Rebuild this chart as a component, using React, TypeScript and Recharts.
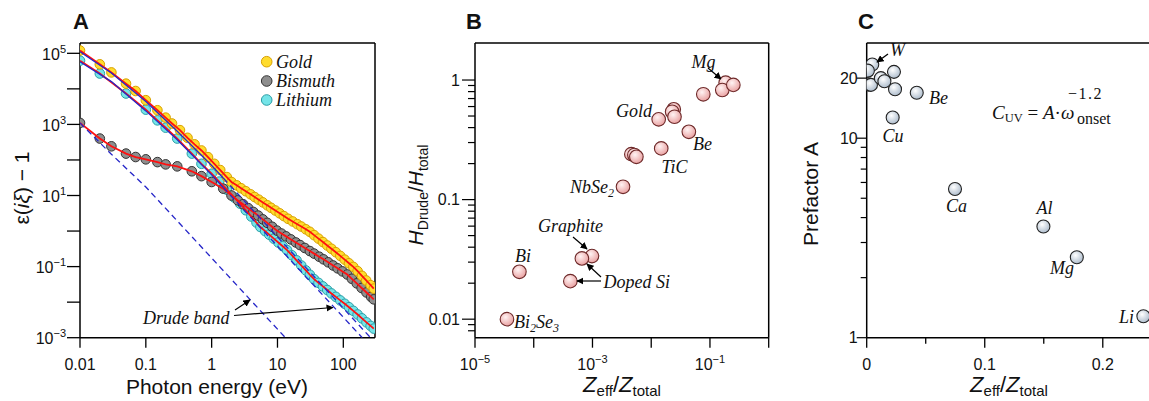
import React from 'react';
import { ScatterChart, Scatter, XAxis, YAxis, ReferenceLine } from 'recharts';

// ---------------- Panel A data ----------------
const goldEnergy = [0.01,0.02,0.03,0.05,0.07,0.1,0.15,0.2,0.25,0.33,0.43,0.55,0.7,0.88,1.1,1.35,1.7,2.0,2.4,2.8,3.3,3.9,4.5,5.2,6,7,8,9.3,10.8,12.5,14.5,17,20,23,27,31,36,42,49,57,66,77,90,105,122,142,165,192,223,260,290];
const goldEps = [1.2e5,4.9e4,2.9e4,1.4e4,8.7e3,4.8e3,2.5e3,1.55e3,1.06e3,690,420,275,185,120,78,52,33,24,19.3,16.0,13.2,10.8,9.06,7.63,6.4,5.3,4.5,3.78,3.15,2.64,2.21,1.86,1.56,1.34,1.12,0.953,0.767,0.613,0.49,0.393,0.318,0.254,0.2,0.157,0.124,0.098,0.0744,0.0549,0.0407,0.03,0.024];

const bismuthEnergy = [0.01,0.02,0.03,0.05,0.07,0.1,0.15,0.2,0.3,0.5,0.7,1.0,1.5,2.0,2.5,3,3.6,4.3,5.1,6,7,8.3,9.8,11.5,13.5,16,19,22,26,31,36,43,50,59,70,82,97,115,135,160,190,225,265,290];
const bismuthEps = [1100,400,242,151,121,104,87,75,66,48,35,24,15.6,10,7.3,5.7,4.4,3.45,2.72,2.13,1.7,1.32,1.03,0.851,0.708,0.582,0.478,0.404,0.334,0.274,0.232,0.19,0.16,0.132,0.1075,0.0893,0.0733,0.06,0.0454,0.0338,0.025,0.0187,0.014,0.012];

const lithiumEnergy = [0.01,0.02,0.05,0.1,0.15,0.2,0.3,0.5,0.7,1.0,1.3,1.7,2.2,2.7,3.3,4,4.8,5.5,6.5,7.5,8.8,10.3,12,14,16.5,19.5,23,27,31,36,42,49,57,66,77,90,105,122,142,165,192,225,260,290];
const lithiumEps = [6.2e4,2.7e4,7.4e3,2.6e3,1.3e3,810,400,151,78,41,24.6,14.6,8.8,5.9,3.85,2.56,1.73,1.3,0.995,0.79,0.61,0.476,0.373,0.29,0.209,0.15,0.1075,0.078,0.059,0.0442,0.0349,0.0277,0.022,0.0176,0.0141,0.0112,0.009,0.0072,0.0057,0.0045,0.0035,0.0027,0.00215,0.0018];

// Drude-band curves
const goldDrudeSolidE = [0.01, 0.03, 0.1, 0.3, 1, 1.5];
const goldDrudeSolidEps = [1.1e5, 2.8e4, 4.4e3, 640, 70, 31];
const goldDrudeDashE = [1.5, 259];
const goldDrudeDashEps = [31, 0.001];
const lithiumDrudeSolidE = [0.01, 0.03, 0.1, 0.3, 1, 1.5];
const lithiumDrudeSolidEps = [5.8e4, 1.6e4, 2.4e3, 370, 38, 16.8];
const lithiumDrudeDashE = [1.5, 194];
const lithiumDrudeDashEps = [16.8, 0.001];
const bismuthDrudeE = [0.01, 0.03, 0.1, 13.2];
const bismuthDrudeEps = [1100, 145, 17.4, 0.001];

const aXTicks = [0.01, 0.1, 1, 10, 100];
const aYTicks = [1e-3, 1e-2, 1e-1, 1, 10, 100, 1e3, 1e4, 1e5];
const A_X_DOMAIN: [number, number] = [0.01, 303];
const A_Y_DOMAIN: [number, number] = [1e-3, 1.95e5];

// ---------------- Panel B data ----------------
const bZratio = [0.185, 0.162, 0.25, 0.077, 0.0242, 0.0227, 0.0249, 0.0134, 0.0437, 0.0148, 0.00459, 0.00517, 0.00559, 0.00331, 0.00098, 0.00066, 0.00042, 5.7e-5, 3.5e-5];
const bHratio = [0.95, 0.825, 0.91, 0.76, 0.569, 0.543, 0.493, 0.469, 0.369, 0.268, 0.24, 0.236, 0.228, 0.128, 0.0337, 0.0322, 0.0208, 0.0249, 0.01];
const bXTicks = [1e-5, 1e-4, 1e-3, 1e-2, 1e-1, 1];
const bYTicks = [0.008, 0.009, 0.01, 0.02, 0.03, 0.04, 0.05, 0.06, 0.07, 0.08, 0.09, 0.1, 0.2, 0.3, 0.4, 0.5, 0.6, 0.7, 0.8, 0.9, 1];
const B_X_DOMAIN: [number, number] = [1e-5, 1];
const B_Y_DOMAIN: [number, number] = [0.007, 2.04];

// ---------------- Panel C data ----------------
const cZratio = [0.0047, 0.001, 0.0014, 0.0036, 0.012, 0.015, 0.0231, 0.024, 0.0424, 0.022, 0.0748, 0.1497, 0.178, 0.2344];
const cPrefactor = [23.4, 21.8, 18.6, 18.5, 20.0, 19.3, 21.5, 17.6, 16.9, 12.7, 5.56, 3.61, 2.53, 1.28];
const cXTicks = [0, 0.05, 0.1, 0.15, 0.2];
const cYTicks = [1, 2, 3, 4, 5, 6, 7, 8, 9, 10, 20];
const C_X_DOMAIN: [number, number] = [0, 0.24];
const C_Y_DOMAIN: [number, number] = [1, 30];

// ---------------- helpers ----------------
const SANS = '"Liberation Sans", Arial, sans-serif';
const SERIF = '"Liberation Serif", "Times New Roman", serif';
const INK = '#111';

const pts = (xs: number[], ys: number[]) => xs.map((x, i) => ({ x, y: ys[i] }));
const sup = (e: number) => (e < 0 ? `\u2212${-e}` : `${e}`);
const isDecade = (v: number) => Math.abs(Math.log10(v) - Math.round(Math.log10(v))) < 1e-6;

const dot = (fill: string, stroke: string, r: number, sw = 1) => (p: any) => (
  <circle cx={p.cx} cy={p.cy} r={r} fill={fill} stroke={stroke} strokeWidth={sw} />
);
const noDot = () => <g />;
const axisLineStyle = { stroke: '#000', strokeWidth: 1.5 };

const AXTick = (p: any) => (
  <g>
    <line x1={p.x} x2={p.x} y1={p.y} y2={p.y + 10} stroke="#000" strokeWidth={1.3} />
    <text x={p.x} y={p.y + 32} textAnchor="middle" fontFamily={SANS} fontSize={16} fill={INK}>
      {String(p.payload.value)}
    </text>
  </g>
);
const AYTick = (p: any) => {
  const e = Math.round(Math.log10(p.payload.value));
  const major = Math.abs(e) % 2 === 1;
  return (
    <g>
      <line x1={p.x} x2={p.x - 13} y1={p.y} y2={p.y} stroke="#000" strokeWidth={1.3} />
      {major && (
        <text x={p.x - 14} y={p.y + 6.5} textAnchor="end" fontFamily={SANS} fontSize={16} fill={INK}>
          10<tspan dy={-7} fontSize={11}>{sup(e)}</tspan>
        </text>
      )}
    </g>
  );
};
const BXTick = (p: any) => {
  const e = Math.round(Math.log10(p.payload.value));
  const major = Math.abs(e) % 2 === 1;
  return (
    <g>
      <line x1={p.x} x2={p.x} y1={p.y} y2={p.y + 10} stroke="#000" strokeWidth={1.3} />
      {major && (
        <text x={p.x} y={p.y + 32} textAnchor="middle" fontFamily={SANS} fontSize={16} fill={INK}>
          10<tspan dy={-7} fontSize={11}>{sup(e)}</tspan>
        </text>
      )}
    </g>
  );
};
const BYTick = (p: any) => {
  const v = p.payload.value;
  const major = isDecade(v);
  return (
    <g>
      <line x1={p.x} x2={p.x - (major ? 13 : 7)} y1={p.y} y2={p.y} stroke="#000" strokeWidth={1.2} />
      {major && (
        <text x={p.x - 15} y={p.y + 5.5} textAnchor="end" fontFamily={SANS} fontSize={16} fill={INK}>
          {String(v)}
        </text>
      )}
    </g>
  );
};
const CXTick = (p: any) => {
  const v = p.payload.value;
  const major = Math.abs(v * 10 - Math.round(v * 10)) < 1e-9;
  return (
    <g>
      <line x1={p.x} x2={p.x} y1={p.y} y2={p.y + (major ? 10 : 6)} stroke="#000" strokeWidth={1.3} />
      {major && (
        <text x={p.x} y={p.y + 32} textAnchor="middle" fontFamily={SANS} fontSize={16} fill={INK}>
          {String(v)}
        </text>
      )}
    </g>
  );
};
const CYTick = (p: any) => {
  const v = p.payload.value;
  const major = v === 1 || v === 10 || v === 20;
  return (
    <g>
      <line x1={p.x} x2={p.x - (major ? 10 : 6)} y1={p.y} y2={p.y} stroke="#000" strokeWidth={1.2} />
      {major && (
        <text x={p.x - 9} y={p.y + 5.5} textAnchor="end" fontFamily={SANS} fontSize={16} fill={INK}>
          {String(v)}
        </text>
      )}
    </g>
  );
};

const GOLD_FILL = '#ffdc2e';
const GOLD_EDGE = '#d9a000';
const BI_FILL = '#8e8e8e';
const BI_EDGE = '#333';
const LI_FILL = '#74e4e8';
const LI_EDGE = '#2c9ea6';
const FIT = '#ff1010';
const DRUDE = '#2626c8';

const PanelA = () => (
  <ScatterChart width={390} height={401} margin={{ top: 43, right: 15, bottom: 0, left: 0 }}>
    <XAxis type="number" dataKey="x" scale="log" domain={A_X_DOMAIN} allowDataOverflow ticks={aXTicks} interval={0}
      tick={<AXTick />} tickLine={false} tickSize={0} tickMargin={0} height={63.3} axisLine={axisLineStyle} />
    <YAxis type="number" dataKey="y" scale="log" domain={A_Y_DOMAIN} allowDataOverflow ticks={aYTicks} interval={0}
      tick={<AYTick />} tickLine={false} tickSize={0} tickMargin={0} width={80} axisLine={axisLineStyle} />
    <ReferenceLine y={A_Y_DOMAIN[1]} stroke="#000" strokeWidth={1.5} ifOverflow="visible" />
    <ReferenceLine x={A_X_DOMAIN[1]} stroke="#000" strokeWidth={1.5} ifOverflow="visible" />
    <Scatter data={pts(lithiumEnergy, lithiumEps)} shape={dot(LI_FILL, LI_EDGE, 4.8)} isAnimationActive={false} />
    <Scatter data={pts(bismuthEnergy, bismuthEps)} shape={dot(BI_FILL, BI_EDGE, 4.8)} isAnimationActive={false} />
    <Scatter data={pts(goldEnergy, goldEps)} shape={dot(GOLD_FILL, GOLD_EDGE, 4.8)} isAnimationActive={false} />
    <Scatter data={pts(goldEnergy, goldEps)} shape={noDot} line={{ stroke: FIT, strokeWidth: 1.8 }} isAnimationActive={false} />
    <Scatter data={pts(bismuthEnergy, bismuthEps)} shape={noDot} line={{ stroke: FIT, strokeWidth: 1.8 }} isAnimationActive={false} />
    <Scatter data={pts(lithiumEnergy, lithiumEps)} shape={noDot} line={{ stroke: FIT, strokeWidth: 1.8 }} isAnimationActive={false} />
    <Scatter data={pts(goldDrudeSolidE, goldDrudeSolidEps)} shape={noDot} line={{ stroke: DRUDE, strokeWidth: 1.3 }} isAnimationActive={false} />
    <Scatter data={pts(lithiumDrudeSolidE, lithiumDrudeSolidEps)} shape={noDot} line={{ stroke: DRUDE, strokeWidth: 1.3 }} isAnimationActive={false} />
    <Scatter data={pts(goldDrudeDashE, goldDrudeDashEps)} shape={noDot} line={{ stroke: DRUDE, strokeWidth: 1.3, strokeDasharray: '6 4' }} isAnimationActive={false} />
    <Scatter data={pts(lithiumDrudeDashE, lithiumDrudeDashEps)} shape={noDot} line={{ stroke: DRUDE, strokeWidth: 1.3, strokeDasharray: '6 4' }} isAnimationActive={false} />
    <Scatter data={pts(bismuthDrudeE, bismuthDrudeEps)} shape={noDot} line={{ stroke: DRUDE, strokeWidth: 1.3, strokeDasharray: '6 4' }} isAnimationActive={false} />
  </ScatterChart>
);

const PanelB = () => (
  <ScatterChart width={380} height={401} margin={{ top: 43, right: 1.3, bottom: 0, left: 0 }}>
    <XAxis type="number" dataKey="x" scale="log" domain={B_X_DOMAIN} allowDataOverflow ticks={bXTicks} interval={0}
      tick={<BXTick />} tickLine={false} tickSize={0} tickMargin={0} height={63.3} axisLine={axisLineStyle} />
    <YAxis type="number" dataKey="y" scale="log" domain={B_Y_DOMAIN} allowDataOverflow ticks={bYTicks} interval={0}
      tick={<BYTick />} tickLine={false} tickSize={0} tickMargin={0} width={85} axisLine={axisLineStyle} />
    <ReferenceLine y={B_Y_DOMAIN[1]} stroke="#000" strokeWidth={1.5} ifOverflow="visible" />
    <ReferenceLine x={B_X_DOMAIN[1]} stroke="#000" strokeWidth={1.5} ifOverflow="visible" />
    <Scatter data={pts(bZratio, bHratio)} shape={dot('url(#pinkBall)', '#6e2a2a', 6.8, 1.1)} isAnimationActive={false} />
  </ScatterChart>
);

const PanelC = () => (
  <ScatterChart width={380} height={401} margin={{ top: 43, right: 0, bottom: 0, left: 0 }}>
    <XAxis type="number" dataKey="x" domain={C_X_DOMAIN} allowDataOverflow ticks={cXTicks} interval={0}
      tick={<CXTick />} tickLine={false} tickSize={0} tickMargin={0} height={63.3} axisLine={axisLineStyle} />
    <YAxis type="number" dataKey="y" scale="log" domain={C_Y_DOMAIN} allowDataOverflow ticks={cYTicks} interval={0}
      tick={<CYTick />} tickLine={false} tickSize={0} tickMargin={0} width={96.7} axisLine={axisLineStyle} />
    <ReferenceLine y={C_Y_DOMAIN[1]} stroke="#000" strokeWidth={1.5} ifOverflow="visible" />
    <Scatter data={pts(cZratio, cPrefactor)} shape={dot('url(#blueBall)', '#222', 6.5, 1.1)} isAnimationActive={false} />
  </ScatterChart>
);

const it = { fontFamily: SERIF, fontStyle: 'italic' as const, fontSize: 18, fill: INK };

const Overlay = () => (
  <svg width={1149} height={401} style={{ position: 'absolute', left: 0, top: 0, pointerEvents: 'none' }}>
    <defs>
      <marker id="ah" viewBox="0 0 10 10" refX="9" refY="5" markerWidth="6" markerHeight="6" orient="auto">
        <path d="M0,0 L10,5 L0,10 z" fill="#000" />
      </marker>
    </defs>
    {/* panel letters */}
    <text x={73} y={29} fontFamily={SANS} fontWeight="bold" fontSize={22} fill={INK}>A</text>
    <text x={466} y={29} fontFamily={SANS} fontWeight="bold" fontSize={22} fill={INK}>B</text>
    <text x={858} y={29} fontFamily={SANS} fontWeight="bold" fontSize={22} fill={INK}>C</text>

    {/* Panel A titles */}
    <text transform="translate(29,188) rotate(-90)" textAnchor="middle" fontFamily={SANS} fontSize={21} fill={INK}>
      ε(<tspan fontStyle="italic">iξ</tspan>) − 1
    </text>
    <text x={217} y={394} textAnchor="middle" fontFamily={SANS} fontSize={21} fill={INK}>Photon energy (eV)</text>
    {/* legend */}
    <circle cx={266.7} cy={61.7} r={5.3} fill={GOLD_FILL} stroke={GOLD_EDGE} />
    <text x={276} y={67.5} {...it}>Gold</text>
    <circle cx={266.7} cy={81} r={5.3} fill={BI_FILL} stroke={BI_EDGE} />
    <text x={276} y={87} {...it}>Bismuth</text>
    <circle cx={266.7} cy={100} r={5.3} fill={LI_FILL} stroke={LI_EDGE} />
    <text x={276} y={106} {...it}>Lithium</text>
    {/* Drude band annotation */}
    <text x={143} y={323.5} {...it}>Drude band</text>
    <line x1={235} y1={310} x2={250} y2={300} stroke="#000" strokeWidth={1.2} markerEnd="url(#ah)" />
    <line x1={234} y1={315.5} x2={333} y2={307.5} stroke="#000" strokeWidth={1.2} markerEnd="url(#ah)" />

    {/* Panel B titles */}
    <text transform="translate(423,195) rotate(-90)" textAnchor="middle" fontFamily={SANS} fontSize={21} fill={INK}>
      <tspan fontStyle="italic">H</tspan><tspan fontSize={14} dy={5}>Drude</tspan><tspan dy={-5}>/</tspan><tspan fontStyle="italic">H</tspan><tspan fontSize={14} dy={5}>total</tspan>
    </text>
    <text x={622} y={392} textAnchor="middle" fontFamily={SANS} fontSize={22} fill={INK}>
      <tspan fontStyle="italic">Z</tspan><tspan fontSize={15} dy={4}>eff</tspan><tspan dy={-4}>/</tspan><tspan fontStyle="italic">Z</tspan><tspan fontSize={15} dy={4}>total</tspan>
    </text>
    {/* Panel B annotations */}
    <text x={691.5} y={68} {...it}>Mg</text>
    <line x1={708} y1={68} x2={721} y2={79} stroke="#000" strokeWidth={1.2} markerEnd="url(#ah)" />
    <text x={616} y={117} {...it}>Gold</text>
    <text x={693} y={150} {...it}>Be</text>
    <text x={661.5} y={173} {...it}>TiC</text>
    <text x={570} y={193} {...it}>NbSe<tspan fontSize={12} dy={4}>2</tspan></text>
    <text x={538} y={231.5} {...it}>Graphite</text>
    <line x1={573} y1={237} x2={587} y2={249} stroke="#000" strokeWidth={1.2} markerEnd="url(#ah)" />
    <text x={603.5} y={288} {...it}>Doped Si</text>
    <line x1={601} y1={281} x2={577} y2={281} stroke="#000" strokeWidth={1.2} markerEnd="url(#ah)" />
    <line x1={601} y1={277} x2={587} y2={264} stroke="#000" strokeWidth={1.2} markerEnd="url(#ah)" />
    <text x={515} y={261.5} {...it}>Bi</text>
    <text x={514} y={328} {...it}>Bi<tspan fontSize={12} dy={4}>2</tspan><tspan dy={-4}>Se</tspan><tspan fontSize={12} dy={4}>3</tspan></text>

    {/* Panel C titles */}
    <text transform="translate(818,194) rotate(-90)" textAnchor="middle" fontFamily={SANS} fontSize={21} fill={INK}>Prefactor A</text>
    <text x={1009} y={392} textAnchor="middle" fontFamily={SANS} fontSize={22} fill={INK}>
      <tspan fontStyle="italic">Z</tspan><tspan fontSize={15} dy={4}>eff</tspan><tspan dy={-4}>/</tspan><tspan fontStyle="italic">Z</tspan><tspan fontSize={15} dy={4}>total</tspan>
    </text>
    {/* Panel C annotations */}
    <text x={890} y={56} {...it}>W</text>
    <line x1={888} y1={54} x2={877} y2={62} stroke="#000" strokeWidth={1.2} markerEnd="url(#ah)" />
    <text x={929} y={103.5} {...it}>Be</text>
    <text x={882.5} y={141.5} {...it}>Cu</text>
    <text x={946} y={212} {...it}>Ca</text>
    <text x={1036.5} y={214} {...it}>Al</text>
    <text x={1050} y={274} {...it}>Mg</text>
    <text x={1119} y={323} {...it}>Li</text>
    {/* formula */}
    <text x={992} y={119} fontFamily={SERIF} fontSize={19} fill={INK}>
      <tspan fontStyle="italic">C</tspan><tspan fontSize={12.5} dy={3}>UV</tspan><tspan dy={-3}> = </tspan><tspan fontStyle="italic">A</tspan>·<tspan fontStyle="italic">ω</tspan>
    </text>
    <text x={1068} y={99} fontFamily={SERIF} fontSize={16} letterSpacing={1.5} fill={INK}>−1.2</text>
    <text x={1077} y={123.5} fontFamily={SERIF} fontSize={16} fill={INK}>onset</text>
  </svg>
);

export default function App() {
  return (
    <div style={{ position: 'absolute', left: 0, top: 0, width: 1149, height: 401, overflow: 'hidden', background: '#fff' }}>
      <svg width={0} height={0} style={{ position: 'absolute' }}>
        <defs>
          <radialGradient id="pinkBall" cx="40%" cy="35%" r="65%">
            <stop offset="0%" stopColor="#fff3f3" />
            <stop offset="100%" stopColor="#eaa2a2" />
          </radialGradient>
          <radialGradient id="blueBall" cx="40%" cy="35%" r="65%">
            <stop offset="0%" stopColor="#ffffff" />
            <stop offset="100%" stopColor="#aebdcd" />
          </radialGradient>
        </defs>
      </svg>
      <div style={{ position: 'absolute', left: 0, top: 0 }}><PanelA /></div>
      <div style={{ position: 'absolute', left: 390, top: 0 }}><PanelB /></div>
      <div style={{ position: 'absolute', left: 770, top: 0 }}><PanelC /></div>
      <Overlay />
    </div>
  );
}
